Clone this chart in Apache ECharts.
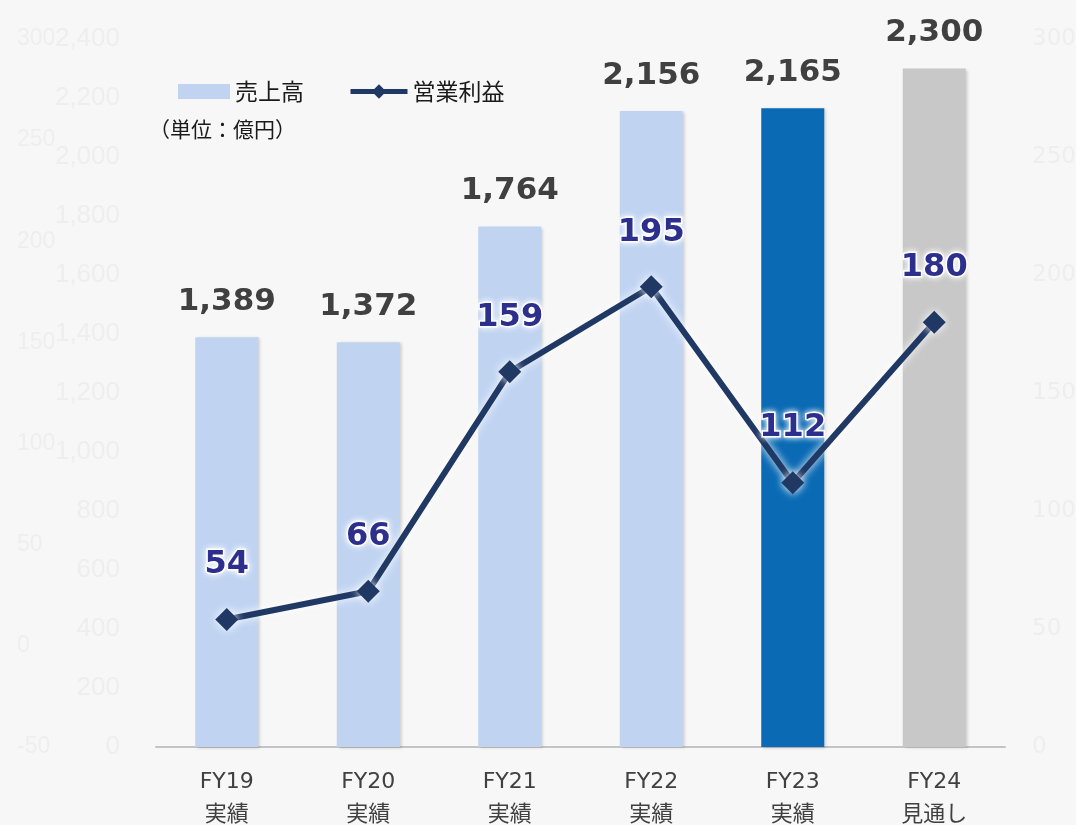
<!DOCTYPE html>
<html>
<head>
<meta charset="utf-8">
<script src="https://cdn.jsdelivr.net/npm/echarts@6/dist/echarts.min.js"></script>
<style>
  html, body { margin: 0; padding: 0; background: #f7f7f7; }
  #chart { width: 1076px; height: 825px; }
</style>
</head>
<body>
<div id="chart"></div>
<script>
// 年度ラベル
const categories = ['FY19\n実績', 'FY20\n実績', 'FY21\n実績', 'FY22\n実績', 'FY23\n実績', 'FY24\n見通し'];
// 売上高（億円）
const salesValues = [1389, 1372, 1764, 2156, 2165, 2300];
// 営業利益（億円）
const profitValues = [54, 66, 159, 195, 112, 180];
// 棒の色（FY23は実績強調、FY24は見通し）
const barColors = ['#c0d4f2', '#c0d4f2', '#c0d4f2', '#c0d4f2', '#0a6ab4', '#c8c8c8'];

const latin = '"DejaVu Sans", "Noto Sans CJK JP", sans-serif';
const cjk = '"Noto Sans CJK JP", sans-serif';

let myChart = echarts.init(document.getElementById('chart'));

myChart.setOption({
    backgroundColor: '#f7f7f7',
    animation: false,
    grid: { left: 156, right: 71, top: 39, bottom: 78, outerBoundsMode: 'none', containLabel: false },
    legend: [
        {
            data: ['売上高'],
            left: 173, top: 75,
            icon: 'rect',
            itemWidth: 52, itemHeight: 15,
            textStyle: { fontFamily: cjk, fontSize: 23, color: '#1a1a1a' }
        },
        {
            data: ['営業利益'],
            left: 343, top: 75,
            itemWidth: 57, itemHeight: 18,
            lineStyle: { width: 5, color: '#203864' },
            textStyle: { fontFamily: cjk, fontSize: 23, color: '#1a1a1a' }
        }
    ],
    graphic: [
        {
            type: 'text',
            left: 149, top: 119,
            style: { text: '（単位：億円）', fontFamily: cjk, fontSize: 21, fill: '#1a1a1a' }
        }
    ],
    xAxis: {
        type: 'category',
        data: categories,
        axisLine: { lineStyle: { color: '#c4c4c4', width: 2 } },
        axisTick: { show: false },
        axisLabel: {
            margin: 19,
            fontFamily: latin,
            fontSize: 22,
            lineHeight: 33,
            color: '#404040'
        }
    },
    yAxis: [
        {
            // 売上高の軸（ほぼ見えない）
            type: 'value', min: 0, max: 2400, interval: 200,
            position: 'left',
            splitLine: { show: false },
            axisLine: { show: false }, axisTick: { show: false },
            axisLabel: {
                margin: 36,
                fontFamily: '"Liberation Sans", Arial, sans-serif',
                fontSize: 26,
                color: '#eeeeee',
                formatter: v => v.toLocaleString('en-US')
            }
        },
        {
            // 営業利益の軸
            type: 'value', min: 0, max: 300, interval: 50,
            position: 'right',
            splitLine: { show: false },
            axisLine: { show: false }, axisTick: { show: false },
            axisLabel: {
                margin: 27,
                fontFamily: latin,
                fontSize: 23,
                color: '#eeeeee'
            }
        },
        {
            // 左側に残っている薄い軸
            type: 'value', min: -50, max: 300, interval: 50,
            position: 'left',
            splitLine: { show: false },
            axisLine: { show: false }, axisTick: { show: false },
            axisLabel: {
                margin: 139,
                align: 'left',
                fontFamily: '"Liberation Sans", Arial, sans-serif',
                fontSize: 23,
                color: '#eeeeee'
            }
        }
    ],
    series: [
        {
            name: '売上高',
            type: 'bar',
            yAxisIndex: 0,
            barWidth: 63,
            itemStyle: {
                color: barColors[0],
                shadowColor: 'rgba(0,0,0,0.18)',
                shadowBlur: 3,
                shadowOffsetX: 2,
                shadowOffsetY: 1
            },
            data: salesValues.map((v, i) => ({ value: v, itemStyle: { color: barColors[i] } })),
            label: {
                show: true,
                position: 'top',
                distance: 20,
                fontFamily: latin,
                fontWeight: 'bold',
                fontSize: 31,
                color: '#404040',
                formatter: p => p.value.toLocaleString('en-US')
            },
            z: 2
        },
        {
            name: '営業利益',
            type: 'line',
            yAxisIndex: 1,
            data: profitValues,
            symbol: 'diamond',
            symbolSize: 23,
            lineStyle: {
                color: '#203864',
                width: 6,
                shadowColor: '#ffffff',
                shadowBlur: 9
            },
            itemStyle: {
                color: '#203864',
                shadowColor: '#ffffff',
                shadowBlur: 9
            },
            label: {
                show: true,
                position: 'top',
                distance: 27,
                fontFamily: latin,
                fontWeight: 'bold',
                fontSize: 32,
                color: '#2d2f8c',
                textBorderColor: '#ffffff',
                textBorderWidth: 3,
                textShadowColor: '#ffffff',
                textShadowBlur: 6
            },
            z: 5
        }
    ]
});
</script>
</body>
</html>
